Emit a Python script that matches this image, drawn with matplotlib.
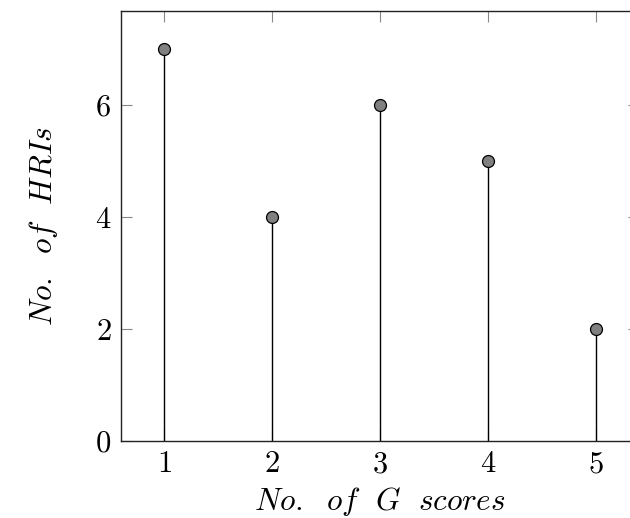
import matplotlib
matplotlib.use('Agg')
import matplotlib.pyplot as plt

# data
g_scores = [1, 2, 3, 4, 5]
n_hris = [7, 4, 6, 5, 2]

plt.rcParams['font.family'] = 'serif'
plt.rcParams['font.serif'] = ['cmr10']
plt.rcParams['mathtext.fontset'] = 'cm'
plt.rcParams['axes.formatter.use_mathtext'] = True

fig = plt.figure(figsize=(6.3, 5.18), dpi=100)
ax = fig.add_axes([121/630, 77/518, 518/630, 430/518])

ax.vlines(g_scores, 0, n_hris, color='black', linewidth=1.0)
ax.plot(g_scores, n_hris, linestyle='none', marker='o', markersize=8.6,
        markerfacecolor='#808080', markeredgecolor='black', markeredgewidth=0.9)

ax.set_xlim(0.6, 5.4)
ax.set_ylim(0, 7.68)
ax.set_xticks(g_scores)
ax.set_yticks([0, 2, 4, 6])

ax.tick_params(direction='in', length=7.7, width=0.8, color='#888888',
               top=True, right=True, labelsize=22, pad=7)
for s in ax.spines.values():
    s.set_linewidth(1.0)
    s.set_color('#222222')

ax.set_xlabel(r'$\mathit{No.\ \ of\ \ G\ \ scores}$', fontsize=22.5, labelpad=5)
ax.set_ylabel(r'$\mathit{No.\ \ of\ \ HRIs}$', fontsize=22.5, labelpad=25)

fig.savefig('out.png', dpi=100)
